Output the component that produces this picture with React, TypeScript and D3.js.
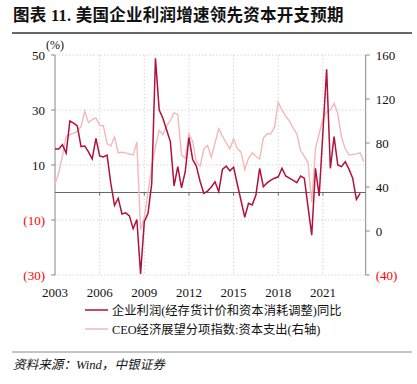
import React from "react";
import * as d3 from "d3";

const yearTicks = [2003, 2006, 2009, 2012, 2015, 2018, 2021];
const leftTicks = [50, 30, 10, -10, -30];
const rightTicks = [160, 120, 80, 40, 0, -40];

// Quarterly, starting 2003Q1
const profitsYoY = [
  15.8, 15.8, 17.4, 14.3, 26, 25.2, 24.2, 16.7, 16.9, 14.8, 12.2, 19.7,
  13.3, 12.9, 13.6, 3.3, -4.7, -2.1, -7.8, -7.4, -8.5, -13.2, -9.8, -29.6,
  -10.6, -7.6, 3.3, 48.8, 30, 27, 22.7, 18.5, 2.4, 9.4, 1.7, 7.6,
  20, 12, 9.5, 4, -0.3, 0.5, 2, 3.9, 0.3, 8.4, 9.6, 7.9,
  9.2, 3, -3, -9, -3.9, -4.5, -0.9, 8.8, 2.1, 3.5, 4.5, 5.2,
  5.7, 8.8, 6, 5.2, 4.4, 3.6, 6, 5.2, -5.2, -15.5, 8.8, -1.3,
  22, 44.8, 8.8, 20.3, 10, 9.4, 11.2, 8.5, 5.2, -2.5, -0.3,
];

const ceoCapex = [
  42.6, 53, 68, 86, 87.5, 89, 90.6, 95, 109, 98.5, 101.3, 102.8,
  96, 95.5, 79.3, 77.2, 85.4, 71, 71.6, 71, 70, 69.2, 80.8, 1,
  12, 35, 58, 77, 91.5, 87.5, 95.5, 100.6, 107.4, 106, 69.2, 66.1,
  88.4, 81.4, 62.5, 58.8, 74.7, 77.7, 67, 80, 93, 86.3, 80, 74.7,
  83.9, 74.7, 71.7, 55.7, 66, 71, 68, 65.5, 84.5, 88.4, 88.4, 94.6,
  116.9, 109.8, 104.5, 100, 93.7, 88.4, 73.1, 68, 62, 25.8, 74.7, 88.4,
  102.2, 108.3, 110, 115.9, 106.8, 85.4, 74.7, 69.2, 69.5, 70.1, 71, 63,
];

const legendLabels = [
  "企业利润(经存货计价和资本消耗调整)同比",
  "CEO经济展望分项指数:资本支出(右轴)",
];

const DARK = "#B0123B";
const LIGHT = "#F3B9B9";
const FONT = "'Liberation Serif', 'Noto Sans CJK SC', serif";

const fmt = (v: number) => (v < 0 ? `(${Math.abs(v)})` : `${v}`);

export default function App() {
  const left = 55;
  const right = 365.7;
  const top = 55;
  const bottom = 275;

  const x = d3.scaleLinear().domain([0, 83.5]).range([left, right]);
  const yL = d3.scaleLinear().domain([-30, 50]).range([bottom, top]);
  const yR = d3.scaleLinear().domain([-40, 160]).range([bottom, top]);

  const lineL = d3
    .line<number>()
    .x((_, i) => x(i))
    .y((d) => yL(d));
  const lineR = d3
    .line<number>()
    .x((_, i) => x(i))
    .y((d) => yR(d));

  const xq = (yr: number) => x((yr - 2003) * 4);

  return (
    <svg
      width={417}
      height={384}
      style={{ position: "absolute", left: 0, top: 0, background: "#fff" }}
      fontFamily={FONT}
    >
      {/* Title */}
      <text x={13} y={21} fontSize={16.5} fontWeight="bold" fill="#111" letterSpacing={0.25}>
        图表 11. 美国企业利润增速领先资本开支预期
      </text>
      <line x1={12} x2={412} y1={33} y2={33} stroke="#333" strokeWidth={1.5} />

      {/* Horizontal grid */}
      {leftTicks.map((t) => (
        <line
          key={"hg" + t}
          x1={left}
          x2={right}
          y1={yL(t)}
          y2={yL(t)}
          stroke="#ccc"
          strokeWidth={0.8}
          strokeDasharray="1.5,2"
        />
      ))}
      {/* Vertical grid */}
      {yearTicks.slice(1).map((t) => (
        <line
          key={"vg" + t}
          x1={xq(t)}
          x2={xq(t)}
          y1={top}
          y2={bottom}
          stroke="#ccc"
          strokeWidth={0.8}
          strokeDasharray="1.5,2"
        />
      ))}

      {/* Left axis */}
      <line x1={left} x2={left} y1={top} y2={bottom} stroke="#888" strokeWidth={1} />
      {leftTicks.map((t) => (
        <g key={"lt" + t}>
          <line x1={left - 4} x2={left} y1={yL(t)} y2={yL(t)} stroke="#888" />
          <text
            x={left - 10}
            y={yL(t) + 4.5}
            textAnchor="end"
            fontSize={13}
            fill={t < 0 ? "#FF0000" : "#111"}
          >
            {fmt(t)}
          </text>
        </g>
      ))}
      <text x={46} y={49} fontSize={12} fill="#111">
        (%)
      </text>

      {/* Right axis */}
      <line x1={right} x2={right} y1={top} y2={bottom} stroke="#888" strokeWidth={1} />
      {rightTicks.map((t) => (
        <g key={"rt" + t}>
          <line x1={right} x2={right + 4} y1={yR(t)} y2={yR(t)} stroke="#888" />
          <text
            x={right + 10}
            y={yR(t) + 4.5}
            textAnchor="start"
            fontSize={13}
            fill={t < 0 ? "#FF0000" : "#111"}
          >
            {fmt(t)}
          </text>
        </g>
      ))}

      {/* Zero line with ticks */}
      <line x1={left} x2={right} y1={yL(0)} y2={yL(0)} stroke="#666" strokeWidth={1.2} />
      {yearTicks.slice(1).map((t) => (
        <line
          key={"zt" + t}
          x1={xq(t)}
          x2={xq(t)}
          y1={yL(0)}
          y2={yL(0) + 3}
          stroke="#666"
        />
      ))}

      {/* X labels */}
      {yearTicks.map((t) => (
        <text
          key={"xl" + t}
          x={xq(t)}
          y={297}
          textAnchor="middle"
          fontSize={13}
          fill="#111"
        >
          {t}
        </text>
      ))}

      {/* Series */}
      <path d={lineR(ceoCapex) || ""} fill="none" stroke={LIGHT} strokeWidth={1.4} />
      <path d={lineL(profitsYoY) || ""} fill="none" stroke={DARK} strokeWidth={1.5} />

      {/* Legend */}
      <line x1={85} x2={108} y1={310} y2={310} stroke={DARK} strokeWidth={1.5} />
      <text x={112} y={314.5} fontSize={12.3} fill="#111">
        {legendLabels[0]}
      </text>
      <line x1={85} x2={108} y1={329} y2={329} stroke={LIGHT} strokeWidth={1.5} />
      <text x={112} y={333.5} fontSize={12.3} fill="#111">
        {legendLabels[1]}
      </text>

      {/* Source */}
      <line x1={12} x2={412} y1={352} y2={352} stroke="#888" strokeWidth={1} />
      <text x={13} y={369} fontSize={12.6} fontStyle="italic" fill="#111">
        资料来源：Wind，中银证券
      </text>
    </svg>
  );
}
